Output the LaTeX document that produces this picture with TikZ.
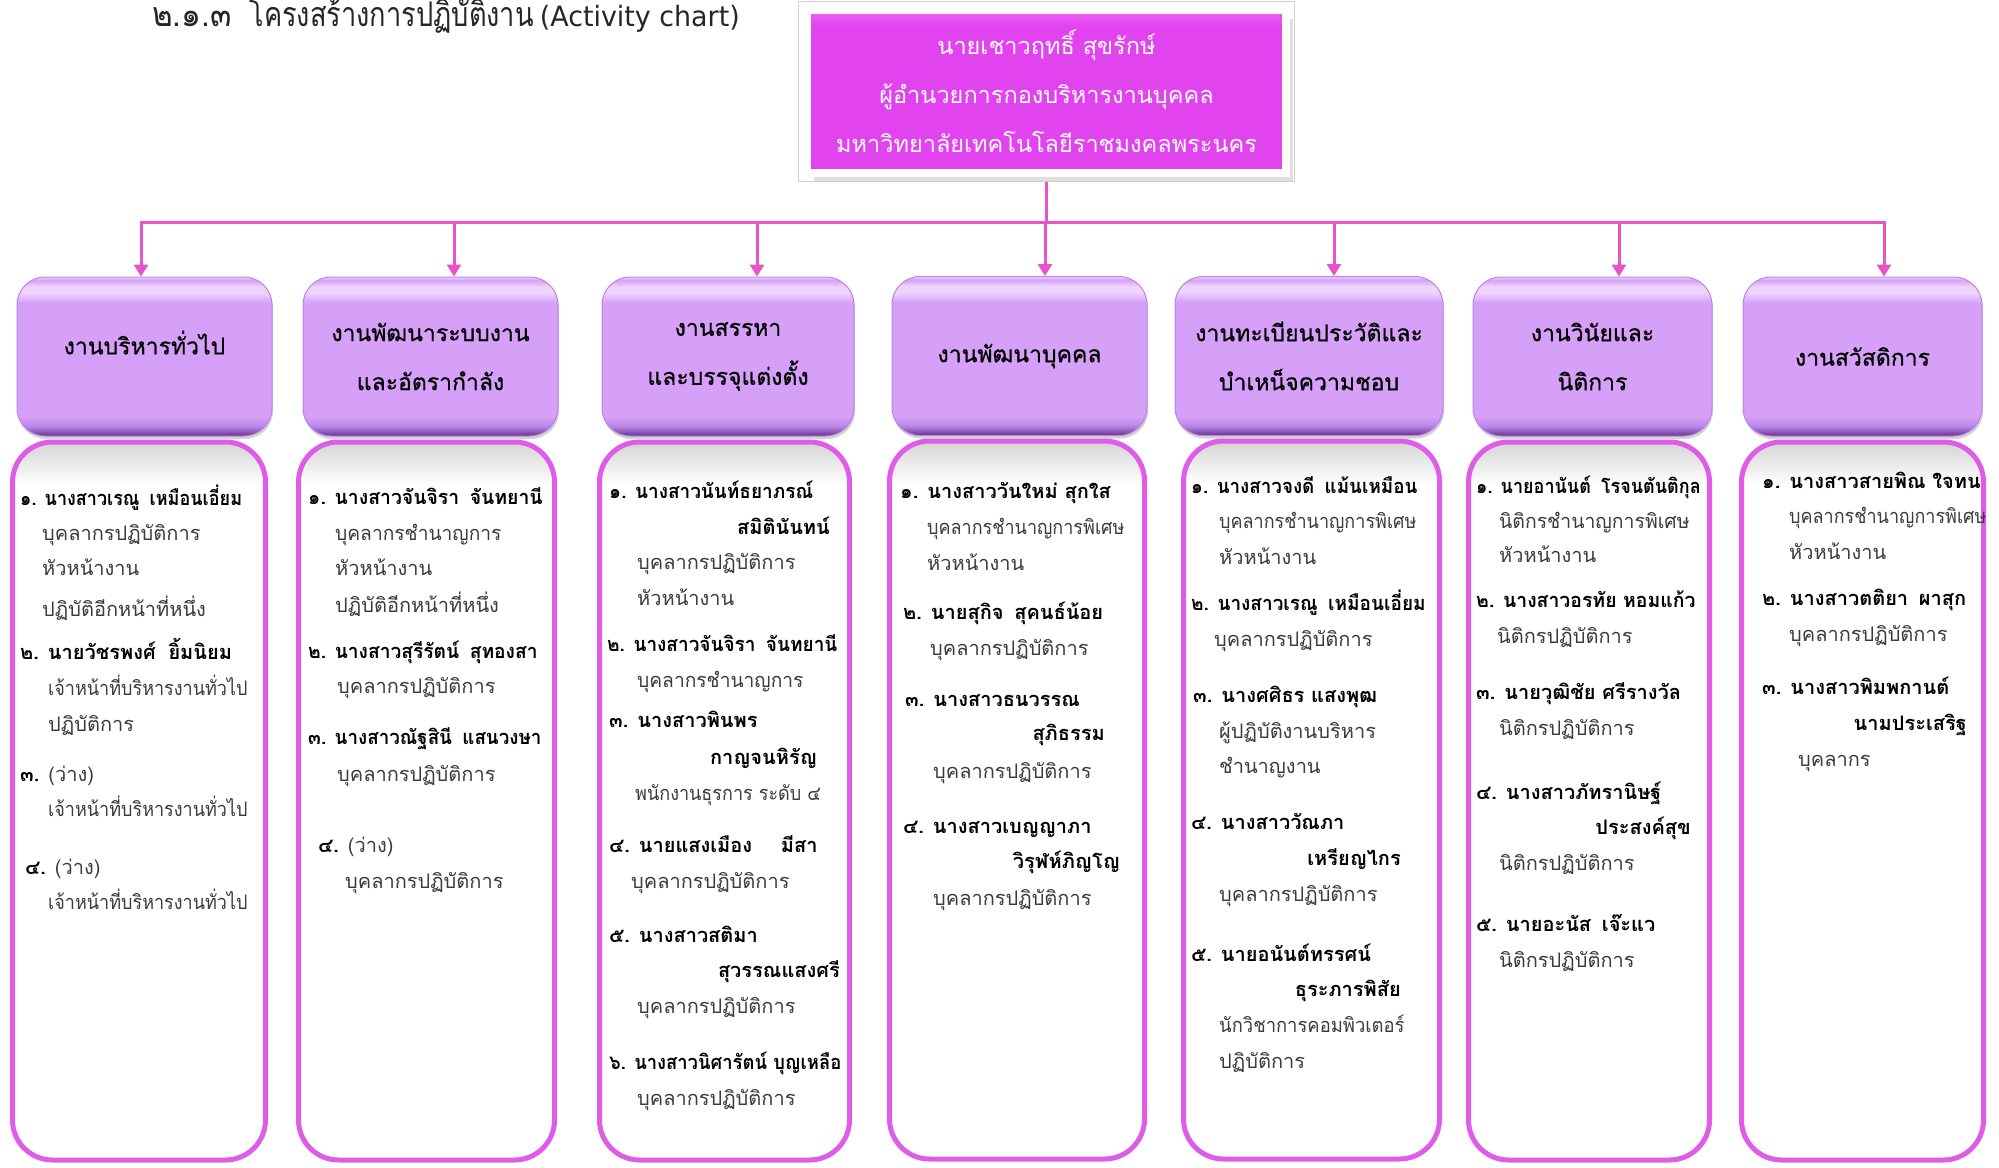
\documentclass[tikz,border=0pt]{standalone}
\usepackage{fontspec}
\setmainfont{Loma}[Script=Thai]
\newfontfamily\latinfont{DejaVu Sans}
\usetikzlibrary{arrows.meta,shadows}
\definecolor{topmag}{RGB}{225,68,238}
\definecolor{topmagl}{RGB}{240,96,250}
\definecolor{conn}{RGB}{232,84,200}
\definecolor{hdr}{RGB}{214,160,248}
\definecolor{hdrl}{RGB}{238,212,252}
\definecolor{hdrm}{RGB}{186,132,230}
\definecolor{hdrd}{RGB}{100,52,140}
\definecolor{lowedge}{RGB}{222,92,232}
\definecolor{lowgray}{RGB}{212,212,212}
\definecolor{txt}{RGB}{60,60,60}
\pgfdeclareverticalshading{hdrshade}{100bp}{color(0bp)=(hdrd); color(25bp)=(hdrd); color(28bp)=(hdrm); color(31bp)=(hdr); color(67bp)=(hdr); color(70bp)=(hdrl); color(72bp)=(hdrl); color(74bp)=(hdr); color(75bp)=(hdrl); color(100bp)=(hdrl)}
\pgfdeclareverticalshading{lowshade}{100bp}{color(0bp)=(white); color(72bp)=(white); color(75bp)=(lowgray); color(100bp)=(lowgray)}
\pgfdeclareverticalshading{topshade}{100bp}{color(0bp)=(topmag); color(70bp)=(topmag); color(75bp)=(topmagl); color(100bp)=(topmagl)}
\newcommand{\bodyfs}{\fontsize{20}{24}\selectfont}
\tikzset{
  conn/.style={draw=conn, line width=3pt, line join=miter},
  arr/.style={-{Triangle[width=14pt,length=12pt]}},
  topbox/.style={shading=topshade, draw=white, line width=8pt, minimum width=479pt, minimum height=163pt, inner sep=0pt, align=center, text=white, font=\fontsize{23.5}{49}\selectfont, drop shadow={opacity=0.25, shadow xshift=7pt, shadow yshift=-9pt}},
  hdrbox/.style={shading=hdrshade, draw=hdrm, line width=1pt, rounded corners=28pt, minimum height=159pt, inner sep=0pt, align=center, font=\fontsize{23}{49}\selectfont\addfontfeature{FakeBold=0.6}, text=black, drop shadow={opacity=0.35, shadow xshift=1pt, shadow yshift=-3pt}},
  lowbox/.style={shading=lowshade, draw=lowedge, line width=5pt, rounded corners=40pt, minimum height=718pt, inner sep=0pt},
  nm/.style={font=\bodyfs\bfseries, anchor=base west, inner sep=0pt, text=black},
  nmx/.style={nm, font=\bodyfs\bfseries\addfontfeature{FakeStretch=#1}},
  nmr/.style={nm, anchor=base east},
  ps/.style={font=\bodyfs, anchor=base west, inner sep=0pt, text=txt},
  psx/.style={ps, font=\bodyfs\addfontfeature{FakeStretch=#1}},
  ttl/.style={font=\fontsize{34}{38}\selectfont, anchor=base west, inner sep=0pt, text=black!85}
}
\begin{document}
\begin{tikzpicture}[x=1pt,y=-1pt]
\useasboundingbox (0,0) rectangle (1999,1167);
\node[ttl] (title) at (152,26) {{\addfontfeature{FakeStretch=0.92}๒.๑.๓}\hspace{18pt}{\addfontfeature{FakeStretch=0.8}โครงสร้างการปฏิบัติงาน}\hspace{6pt}{\latinfont\fontsize{28}{30}\selectfont\addfontfeature{FakeStretch=0.96}(Activity chart)}};
% lower boxes
\node[lowbox, minimum width=253pt] (b1) at (139,801) {};
\node[lowbox, minimum width=256pt] (b2) at (426.5,801) {};
\node[lowbox, minimum width=250pt] (b3) at (724.5,801) {};
\node[lowbox, minimum width=255pt] (b4) at (1017,800) {};
\node[lowbox, minimum width=256pt] (b5) at (1311.5,800) {};
\node[lowbox, minimum width=241pt] (b6) at (1589,801) {};
\node[lowbox, minimum width=242pt] (b7) at (1862.5,801) {};
% header boxes
\node[hdrbox, minimum width=255pt] (h1) at (144.5,356.5) {\raisebox{28pt}{งานบริหารทั่วไป}};
\node[hdrbox, minimum width=255pt] (h2) at (430.5,356.5) {งานพัฒนาระบบงาน\\และอัตรากำลัง};
\node[hdrbox, minimum width=252pt] (h3) at (728,356.5) {งานสรรหา\\และบรรจุแต่งตั้ง};
\node[hdrbox, minimum width=255pt] (h4) at (1019.5,356) {งานพัฒนาบุคคล};
\node[hdrbox, minimum width=268pt] (h5) at (1309,356) {งานทะเบียนประวัติและ\\บำเหน็จความชอบ};
\node[hdrbox, minimum width=239pt] (h6) at (1592.5,356.5) {งานวินัยและ\\นิติการ};
\node[hdrbox, minimum width=239pt] (h7) at (1862.5,356.5) {งานสวัสดิการ};
% top box
\node[topbox] (top) at (1046.5,91.5) {นายเชาวฤทธิ์ สุขรักษ์\\ผู้อำนวยการกองบริหารงานบุคคล\\มหาวิทยาลัยเทคโนโลยีราชมงคลพระนคร};
\draw[black!18, line width=1pt] ([xshift=-4.5pt,yshift=4.5pt]top.north west) rectangle ([xshift=4.5pt,yshift=-4.5pt]top.south east);
% connectors
\coordinate (a1) at (141,222);
\coordinate (a2) at (454,222);
\coordinate (a3) at (757,222);
\coordinate (a4) at (1045,222);
\coordinate (a5) at (1334,222);
\coordinate (a6) at (1619,222);
\coordinate (a7) at (1884,222);
\draw[conn, arr, shorten <=4.5pt] (top.south) |- (a1) -- (a1 |- h1.north);
\draw[conn, arr, shorten <=4.5pt] (top.south) |- (a2) -- (a2 |- h2.north);
\draw[conn, arr, shorten <=4.5pt] (top.south) |- (a3) -- (a3 |- h3.north);
\draw[conn, arr, shorten <=4.5pt] (top.south) |- (a4) -- (a4 |- h4.north);
\draw[conn, arr, shorten <=4.5pt] (top.south) |- (a5) -- (a5 |- h5.north);
\draw[conn, arr, shorten <=4.5pt] (top.south) |- (a6) -- (a6 |- h6.north);
\draw[conn, arr, shorten <=4.5pt] (top.south) |- (a7) -- (a7 |- h7.north);
% box 1
\node[nmx=0.9] (n11) at (20,505) {๑. นางสาวเรณู\hspace{4pt} เหมือนเอี่ยม};
\node[ps] (p11) at (42,540) {บุคลากรปฏิบัติการ};
\node[ps] (p12) at (42,575) {หัวหน้างาน};
\node[ps] (p13) at (42,616) {ปฏิบัติอีกหน้าที่หนึ่ง};
\node[nm] (n12) at (20,659) {๒. นายวัชรพงศ์\hspace{6pt} ยิ้มนิยม};
\node[psx=0.9] (p14) at (48,695) {เจ้าหน้าที่บริหารงานทั่วไป};
\node[ps] (p15) at (48,731) {ปฏิบัติการ};
\node[nm] (n13) at (20,781) {๓. {\mdseries\color{txt}(ว่าง)}};
\node[psx=0.9] (p16) at (48,816) {เจ้าหน้าที่บริหารงานทั่วไป};
\node[nm] (n14) at (25,874) {๔. {\mdseries\color{txt}(ว่าง)}};
\node[psx=0.9] (p17) at (48,909) {เจ้าหน้าที่บริหารงานทั่วไป};
% box 2
\node[nmx=0.97] (n21) at (308,504) {๑. นางสาวจันจิรา\hspace{4pt} จันทยานี};
\node[psx=0.96] (p21) at (335,540) {บุคลากรชำนาญการ};
\node[ps] (p22) at (335,575) {หัวหน้างาน};
\node[ps] (p23) at (335,612) {ปฏิบัติอีกหน้าที่หนึ่ง};
\node[nmx=0.96] (n22) at (308,658) {๒. นางสาวสุรีรัตน์\hspace{4pt} สุทองสา};
\node[ps] (p24) at (337,693) {บุคลากรปฏิบัติการ};
\node[nmx=0.94] (n23) at (308,744) {๓. นางสาวณัฐสินี\hspace{4pt} แสนวงษา};
\node[ps] (p25) at (337,781) {บุคลากรปฏิบัติการ};
\node[nm] (n24) at (318,852) {๔. {\mdseries\color{txt}(ว่าง)}};
\node[ps] (p26) at (345,888) {บุคลากรปฏิบัติการ};
% box 3
\node[nmx=0.95] (n31) at (609,498) {๑. นางสาวนันท์ธยาภรณ์};
\node[nmr] (n31b) at (830,534) {สมิตินันทน์};
\node[ps] (p31) at (637,569) {บุคลากรปฏิบัติการ};
\node[ps] (p32) at (637,605) {หัวหน้างาน};
\node[nmx=0.95] (n32) at (607,651) {๒. นางสาวจันจิรา\hspace{4pt} จันทยานี};
\node[psx=0.96] (p33) at (637,687) {บุคลากรชำนาญการ};
\node[nm] (n33) at (609,727) {๓. นางสาวพินพร};
\node[nmr] (n33b) at (817,764) {กาญจนหิรัญ};
\node[psx=0.9] (p34) at (635,800) {พนักงานธุรการ ระดับ ๔};
\node[nm] (n34) at (609,852) {๔. นายแสงเมือง\hspace{22pt} มีสา};
\node[ps] (p35) at (631,888) {บุคลากรปฏิบัติการ};
\node[nm] (n35) at (609,942) {๕. นางสาวสติมา};
\node[nmr] (n35b) at (840,977) {สุวรรณแสงศรี};
\node[ps] (p36) at (637,1013) {บุคลากรปฏิบัติการ};
\node[nmx=0.92] (n36) at (609,1069) {๖. นางสาวนิศารัตน์ บุญเหลือ};
\node[ps] (p37) at (637,1105) {บุคลากรปฏิบัติการ};
% box 4
\node[nm] (n41) at (900,498) {๑. นางสาววันใหม่ สุกใส};
\node[psx=0.9] (p41) at (927,534) {บุคลากรชำนาญการพิเศษ};
\node[ps] (p42) at (927,570) {หัวหน้างาน};
\node[nm] (n42) at (903,619) {๒. นายสุกิจ\hspace{4pt} สุคนธ์น้อย};
\node[ps] (p43) at (930,655) {บุคลากรปฏิบัติการ};
\node[nm] (n43) at (905,706) {๓. นางสาวธนวรรณ};
\node[nmr] (n43b) at (1105,740) {สุภิธรรม};
\node[ps] (p44) at (933,778) {บุคลากรปฏิบัติการ};
\node[nm] (n44) at (903,833) {๔. นางสาวเบญญาภา};
\node[nmr] (n44b) at (1120,868) {วิรุฬห์ภิญโญ};
\node[ps] (p45) at (933,905) {บุคลากรปฏิบัติการ};
% box 5
\node[nmx=0.94] (n51) at (1191,493) {๑. นางสาวจงดี\hspace{4pt} แม้นเหมือน};
\node[psx=0.9] (p51) at (1219,528) {บุคลากรชำนาญการพิเศษ};
\node[ps] (p52) at (1219,564) {หัวหน้างาน};
\node[nmx=0.95] (n52) at (1191,610) {๒. นางสาวเรณู\hspace{4pt} เหมือนเอี่ยม};
\node[ps] (p53) at (1214,646) {บุคลากรปฏิบัติการ};
\node[nm] (n53) at (1193,702) {๓. นางศศิธร แสงพุฒ};
\node[ps] (p54) at (1219,738) {ผู้ปฏิบัติงานบริหาร};
\node[ps] (p55) at (1219,773) {ชำนาญงาน};
\node[nm] (n54) at (1191,829) {๔. นางสาววัณภา};
\node[nmr] (n54b) at (1401,865) {เหรียญไกร};
\node[ps] (p56) at (1219,901) {บุคลากรปฏิบัติการ};
\node[nm] (n55) at (1191,961) {๕. นายอนันต์ทรรศน์};
\node[nmr] (n55b) at (1401,996) {ธุระภารพิสัย};
\node[psx=0.92] (p57) at (1219,1032) {นักวิชาการคอมพิวเตอร์};
\node[ps] (p58) at (1219,1068) {ปฏิบัติการ};
% box 6
\node[nmx=0.9] (n61) at (1476,493) {๑. นายอานันต์\hspace{4pt} โรจนตันติกุล};
\node[psx=0.97] (p61) at (1499,528) {นิติกรชำนาญการพิเศษ};
\node[ps] (p62) at (1499,562) {หัวหน้างาน};
\node[nmx=0.97] (n62) at (1476,607) {๒. นางสาวอรทัย หอมแก้ว};
\node[ps] (p63) at (1497,643) {นิติกรปฏิบัติการ};
\node[nm] (n63) at (1476,699) {๓. นายวุฒิชัย ศรีรางวัล};
\node[ps] (p64) at (1499,735) {นิติกรปฏิบัติการ};
\node[nm] (n64) at (1476,799) {๔. นางสาวภัทรานิษฐ์};
\node[nmr] (n64b) at (1691,834) {ประสงค์สุข};
\node[ps] (p65) at (1499,870) {นิติกรปฏิบัติการ};
\node[nm] (n65) at (1476,931) {๕. นายอะนัส\hspace{4pt} เจ๊ะแว};
\node[ps] (p66) at (1499,967) {นิติกรปฏิบัติการ};
% box 7
\node[nm] (n71) at (1762,488) {๑. นางสาวสายพิณ ใจทน};
\node[psx=0.9] (p71) at (1789,523) {บุคลากรชำนาญการพิเศษ};
\node[ps] (p72) at (1789,559) {หัวหน้างาน};
\node[nm] (n72) at (1762,605) {๒. นางสาวตติยา\hspace{4pt} ผาสุก};
\node[ps] (p73) at (1789,641) {บุคลากรปฏิบัติการ};
\node[nm] (n73) at (1762,694) {๓. นางสาวพิมพกานต์};
\node[nmr] (n73b) at (1967,730) {นามประเสริฐ};
\node[ps] (p74) at (1798,766) {บุคลากร};
\end{tikzpicture}
\end{document}
